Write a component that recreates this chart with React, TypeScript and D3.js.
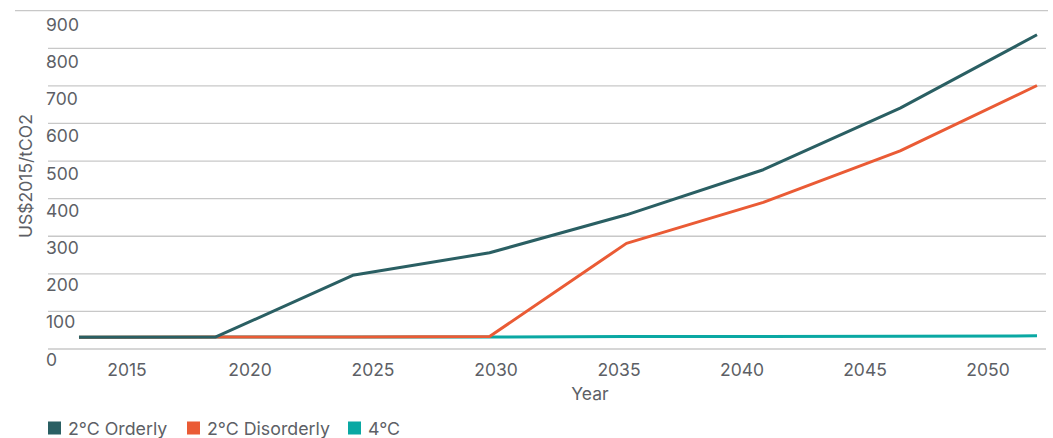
import React from "react";
import * as d3 from "d3";

const years = [2015, 2020, 2025, 2030, 2035, 2040, 2045, 2050];
const orderly = [31, 32, 196, 256, 357, 477, 641, 836];
const disorderly = [31, 32, 32, 33, 281, 390, 527, 701];
const fourC = [31, 32, 32, 32, 33, 33, 34, 35];
const yTicks = [0, 100, 200, 300, 400, 500, 600, 700, 800, 900];
const xTickLabels = ["2015", "2020", "2025", "2030", "2035", "2040", "2045", "2050"];

const series = [
  { name: "4°C", values: fourC, color: "#0aa8a3" },
  { name: "2°C Disorderly", values: disorderly, color: "#ea5b35" },
  { name: "2°C Orderly", values: orderly, color: "#2a5f63" },
];
const legendOrder = ["2°C Orderly", "2°C Disorderly", "4°C"];

const W = 1053;
const H = 438;
const FONT = "Inter, 'Open Sans', sans-serif";
const TEXT = "#5d5f66";
const GRID = "#c8c8c8";

export default function App() {
  const x = d3.scalePoint<number>().domain(years).range([79, 1037]);
  const xLabel = d3.scalePoint<string>().domain(xTickLabels).range([127, 988]);
  const y = d3.scaleLinear().domain([0, 900]).range([349, 10.7]);
  const yLabel = d3.scaleLinear().domain([0, 900]).range([365.7, 30.7]);
  const line = d3
    .line<number>()
    .x((_, i) => x(years[i]) as number)
    .y((d) => y(d));

  const legendX = [48, 187, 348];

  return (
    <div style={{ position: "absolute", left: 0, top: 0 }}>
      <svg width={W} height={H} style={{ display: "block", background: "#fff" }}>
        {yTicks.map((t) => (
          <line
            key={"g" + t}
            x1={t === 900 ? 15 : 48}
            x2={t === 900 ? 1048 : 1046}
            y1={y(t)}
            y2={y(t)}
            stroke={GRID}
            strokeWidth={1.3}
          />
        ))}
        {yTicks.map((t) => (
          <text
            key={"l" + t}
            x={46}
            y={yLabel(t)}
            fontFamily={FONT}
            fontSize={17.5}
            fill={TEXT}
          >
            {t}
          </text>
        ))}
        {xTickLabels.map((t) => (
          <text
            key={"x" + t}
            x={xLabel(t)}
            y={376}
            textAnchor="middle"
            fontFamily={FONT}
            fontSize={17.5}
            fill={TEXT}
          >
            {t}
          </text>
        ))}
        <text x={590} y={400} textAnchor="middle" fontFamily={FONT} fontSize={17.5} fill={TEXT}>
          Year
        </text>
        <text
          transform="translate(32,176) rotate(-90)"
          textAnchor="middle"
          fontFamily={FONT}
          fontSize={17.5}
          fill={TEXT}
        >
          US$2015/tCO2
        </text>
        {series.map((s) => (
          <path
            key={s.name}
            d={line(s.values) || ""}
            fill="none"
            stroke={s.color}
            strokeWidth={3}
            strokeLinejoin="round"
          />
        ))}
        {legendOrder.map((name, i) => {
          const s = series.find((d) => d.name === name)!;
          return (
            <g key={name} transform={`translate(${legendX[i]},0)`}>
              <rect x={0} y={421.5} width={13} height={13} fill={s.color} />
              <text x={20} y={434.5} fontFamily={FONT} fontSize={17.8} fill={TEXT}>
                {name}
              </text>
            </g>
          );
        })}
      </svg>
    </div>
  );
}
